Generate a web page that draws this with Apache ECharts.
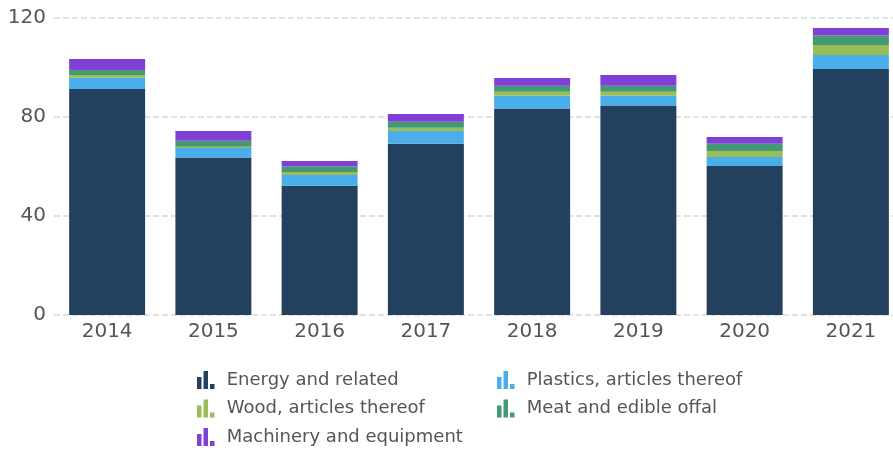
<!DOCTYPE html>
<html>
<head>
<meta charset="utf-8">
<script src="https://cdn.jsdelivr.net/npm/echarts@6/dist/echarts.min.js"></script>
<style>
  html, body { margin: 0; padding: 0; background: #fff; }
  #chart { width: 893px; height: 450px; }
</style>
</head>
<body>
<div id="chart"></div>
<script>
const years = ['2014', '2015', '2016', '2017', '2018', '2019', '2020', '2021'];
const energy = [91.3, 63.6, 52.2, 69.2, 83.4, 84.6, 60.2, 99.4];
const plastics = [4.6, 3.9, 4.4, 5.1, 5.2, 4.0, 3.6, 5.7];
const wood = [1.1, 0.5, 1.2, 1.4, 1.6, 1.6, 2.5, 4.0];
const meat = [2.0, 2.4, 2.3, 2.4, 2.4, 2.4, 2.9, 3.8];
const machinery = [4.4, 3.9, 2.1, 3.1, 3.2, 4.4, 2.7, 3.1];
const yTicks = [0, 40, 80, 120];

const chart = echarts.init(document.getElementById('chart'));

const fontFamily = 'DejaVu Sans, Verdana, sans-serif';
// little bar-chart glyph used as legend marker
const legendIcon = 'path://M0,6H4.5V18H0Z M6.5,0H11V18H6.5Z M13,13H17.5V18H13Z';

function barSeries(name, data, color) {
  return {
    name: name,
    type: 'bar',
    stack: 'total',
    data: data,
    barWidth: '71.5%',
    itemStyle: { color: color },
  };
}

const legendCommon = {
  orient: 'vertical',
  icon: legendIcon,
  itemWidth: 18,
  itemHeight: 18,
  itemGap: 10.5,
  height: 120,
  padding: 0,
  textStyle: { color: '#555', fontSize: 18, fontFamily: fontFamily, padding: [0, 0, 0, 7] },
};

chart.setOption({
  backgroundColor: '#fff',
  animation: false,
  grid: { left: 54, width: 850, top: 18, bottom: 135, outerBoundsMode: 'none' },
  legend: [
    { ...legendCommon, left: 197, top: 371, data: ['Energy and related', 'Wood, articles thereof', 'Machinery and equipment'] },
    { ...legendCommon, left: 497, top: 371, data: ['Plastics, articles thereof', 'Meat and edible offal'] },
  ],
  xAxis: {
    type: 'category',
    data: years,
    axisLine: { show: false },
    axisTick: { show: false },
    axisLabel: { color: '#555', fontSize: 20, fontFamily: fontFamily, margin: 7 },
  },
  yAxis: {
    type: 'value',
    min: yTicks[0],
    max: yTicks[yTicks.length - 1],
    interval: 40,
    axisLine: { show: false },
    axisTick: { show: false },
    axisLabel: { color: '#555', fontSize: 20, fontFamily: fontFamily, margin: 8 },
    splitLine: { lineStyle: { color: '#d9d9d9', width: 1.5, type: [6, 3] } },
  },
  series: [
    barSeries('Energy and related', energy, '#24405f'),
    barSeries('Plastics, articles thereof', plastics, '#4aaeeb'),
    barSeries('Wood, articles thereof', wood, '#9abd5a'),
    barSeries('Meat and edible offal', meat, '#449872'),
    barSeries('Machinery and equipment', machinery, '#803fd6'),
  ],
});
</script>
</body>
</html>
